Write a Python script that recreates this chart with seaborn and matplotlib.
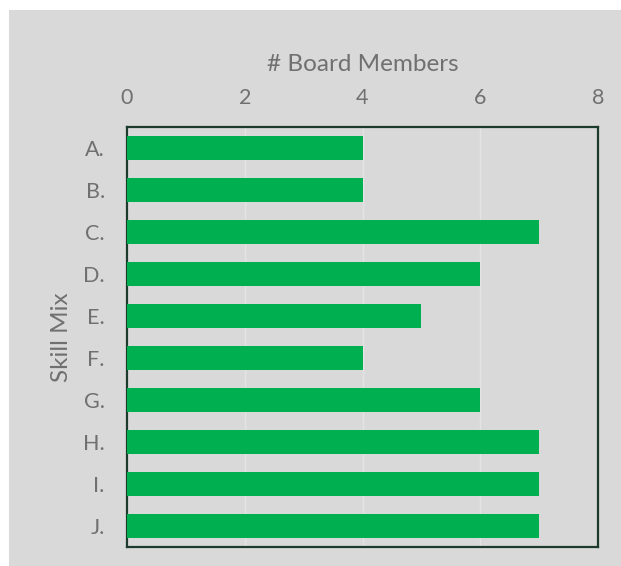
import numpy as np
import pandas as pd
import matplotlib

matplotlib.use("Agg")

import matplotlib.pyplot as plt
import seaborn as sns
from matplotlib.patches import Rectangle

# ============================================================
# DATA
# ============================================================

SKILLS  = ["A.", "B.", "C.", "D.", "E.", "F.", "G.", "H.", "I.", "J."]
MEMBERS = [4, 4, 7, 6, 5, 4, 6, 7, 7, 7]
X_TICKS = [0, 2, 4, 6, 8]

BG      = "#d9d9d9"
GREEN   = "#00b050"
TEXT    = "#707070"
FRAME   = "#1d3b2c"

df = pd.DataFrame({"Skill": SKILLS, "Members": MEMBERS})

sns.set_style("white")
plt.rcParams["font.family"] = ["Lato", "DejaVu Sans"]

fig = plt.figure(figsize=(6.21, 5.66), dpi=100, facecolor="white")
# grey chart area (leaves thin white strip on left/top like the source)
fig.add_artist(Rectangle((9 / 621, 0), 1 - 9 / 621, 1 - 10 / 566,
                         transform=fig.transFigure, facecolor=BG,
                         edgecolor="none", zorder=-10))

ax = fig.add_axes([127 / 621, 1 - 547 / 566, (598 - 127) / 621, (547 - 127) / 566])
ax.set_facecolor(BG)

sns.barplot(data=df, y="Skill", x="Members", order=SKILLS, orient="h",
            color=GREEN, width=0.57, saturation=1, linewidth=0,
            ax=ax, zorder=3)

ax.set_xlim(0, 8)
ax.set_xticks(X_TICKS)
ax.xaxis.tick_top()
ax.xaxis.set_label_position("top")
ax.tick_params(axis="x", length=0, pad=14, labelsize=15.5, labelcolor=TEXT)
ax.tick_params(axis="y", length=0, pad=16, labelsize=15.5, labelcolor=TEXT)

ax.set_xlabel("# Board Members", fontsize=17.5, color=TEXT, labelpad=12)
ax.set_ylabel("Skill Mix", fontsize=17.5, color=TEXT, labelpad=8)

ax.grid(axis="x", color="#e4e4e4", linewidth=1.0, zorder=1)
ax.set_axisbelow(True)

for sp in ax.spines.values():
    sp.set_visible(True)
    sp.set_color(FRAME)
    sp.set_linewidth(1.6)

plt.savefig("out.png", dpi=100, facecolor=fig.get_facecolor())
plt.close()
